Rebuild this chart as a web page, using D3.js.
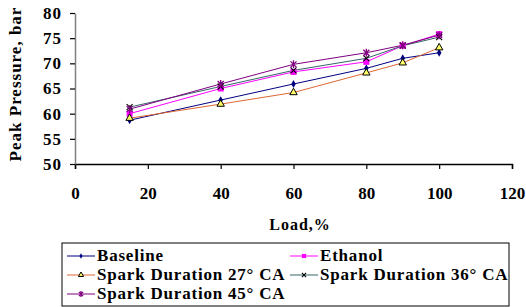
<!DOCTYPE html>
<html>
<head>
<meta charset="utf-8">
<script src="https://cdn.jsdelivr.net/npm/d3@7"></script>
<style>
body { margin: 0; background: #fff; }
text { font-family: "Liberation Serif", "Times New Roman", serif; font-weight: bold; }
</style>
</head>
<body>
<svg class="chart" width="526" height="307"></svg>
<script>
// data
var loads = [15, 40, 60, 80, 90, 100];
var baseline = [58.7, 62.7, 65.9, 69.0, 71.0, 72.1];
var ethanol = [60.0, 65.0, 68.3, 70.3, 73.5, 75.8];
var sd27 = [59.1, 61.9, 64.2, 68.1, 70.1, 73.1];
var sd36 = [61.3, 65.4, 68.6, 71.0, 73.5, 75.2];
var sd45 = [60.9, 65.9, 69.8, 72.1, 73.6, 75.6];
var xTicks = [0, 20, 40, 60, 80, 100, 120];
var yTicks = [50, 55, 60, 65, 70, 75, 80];

var series = [
  {name: 'Baseline', values: baseline, color: '#000080', marker: 'diamond'},
  {name: 'Ethanol', values: ethanol, color: '#ff00ff', marker: 'square'},
  {name: 'Spark Duration 27\u00b0 CA', values: sd27, color: '#dd6633', marker: 'triangle'},
  {name: 'Spark Duration 36\u00b0 CA', values: sd36, color: '#336666', marker: 'x'},
  {name: 'Spark Duration 45\u00b0 CA', values: sd45, color: '#800080', marker: 'star'}
];

var svg = d3.select('.chart');

var x = d3.scaleLinear().domain([0, 120]).range([75, 512]);
var y = d3.scaleLinear().domain([50, 80]).range([164, 13]);

//axes
var xAxis = svg.append('g')
  .attr('transform', 'translate(' + [0, 164] + ')')
  .call(d3.axisBottom(x).tickValues(xTicks).tickSize(5).tickPadding(18));
xAxis.select('.domain').attr('stroke', '#000').attr('stroke-width', 1.5);
xAxis.selectAll('.tick line').attr('stroke-width', 1.2);
xAxis.selectAll('text').attr('font-size', 17).attr('fill', '#000')
  .attr('font-family', '"Liberation Serif", serif');

var yAxis = svg.append('g')
  .attr('transform', 'translate(' + [75, 0] + ')')
  .call(d3.axisLeft(y).tickValues(yTicks).tickSize(5).tickSizeOuter(0).tickPadding(8));
yAxis.select('.domain').attr('stroke', '#808080').attr('stroke-width', 1.5);
yAxis.selectAll('.tick line').attr('stroke-width', 1.2);
yAxis.selectAll('text').attr('font-size', 17).attr('fill', '#000')
  .attr('font-family', '"Liberation Serif", serif')
  .attr('letter-spacing', 1);

svg.append('text')
  .attr('x', 300).attr('y', 230)
  .attr('text-anchor', 'middle')
  .attr('font-size', 16)
  .attr('letter-spacing', 1)
  .text('Load,%');

svg.append('text')
  .attr('transform', 'translate(' + [21, 84] + ') rotate(-90)')
  .attr('text-anchor', 'middle')
  .attr('font-size', 17)
  .attr('letter-spacing', 1)
  .text('Peak Pressure, bar');

//marker drawing
function drawMarker(g, type, color, cx, cy, k) {
  if (type == 'diamond') {
    g.append('path').attr('d', d3.symbol(d3.symbolDiamond, 18 * k * k)())
      .attr('transform', 'translate(' + [cx, cy] + ')')
      .attr('fill', color);
  } else if (type == 'square') {
    g.append('rect').attr('x', cx - 3 * k).attr('y', cy - 3 * k)
      .attr('width', 6 * k).attr('height', 6 * k).attr('fill', color);
  } else if (type == 'triangle') {
    g.append('path').attr('d', d3.symbol(d3.symbolTriangle, 24 * k * k)())
      .attr('transform', 'translate(' + [cx, cy] + ')')
      .attr('fill', '#ffff66').attr('stroke', '#000').attr('stroke-width', 1);
  } else if (type == 'x') {
    var r = 3 * k;
    g.append('path').attr('d', 'M' + (cx - r) + ',' + (cy - r) + 'L' + (cx + r) + ',' + (cy + r)
      + 'M' + (cx - r) + ',' + (cy + r) + 'L' + (cx + r) + ',' + (cy - r))
      .attr('stroke', '#000').attr('stroke-width', 1.1);
  } else if (type == 'star') {
    var r = 3 * k;
    g.append('path').attr('d', 'M' + (cx - r) + ',' + (cy - r) + 'L' + (cx + r) + ',' + (cy + r)
      + 'M' + (cx - r) + ',' + (cy + r) + 'L' + (cx + r) + ',' + (cy - r)
      + 'M' + cx + ',' + (cy - r - 1) + 'L' + cx + ',' + (cy + r + 1))
      .attr('stroke', color).attr('stroke-width', 1.3);
  }
}

var line = d3.line()
  .x(function(d, i) { return x(loads[i]); })
  .y(function(d) { return y(d); });

var plot = svg.append('g');
series.forEach(function(s) {
  plot.append('path')
    .attr('d', line(s.values))
    .attr('fill', 'none')
    .attr('stroke', s.color)
    .attr('stroke-width', 1);
});
series.forEach(function(s) {
  var g = plot.append('g');
  s.values.forEach(function(v, i) {
    drawMarker(g, s.marker, s.color, x(loads[i]), y(v), 1);
  });
});

//legend
var legend = svg.append('g');
legend.append('rect')
  .attr('x', 62).attr('y', 243)
  .attr('width', 447).attr('height', 63)
  .attr('fill', '#fff').attr('stroke', '#000').attr('stroke-width', 1);

var legendPos = [[67, 256], [290, 256], [67, 275], [290, 275], [67, 294]];
series.forEach(function(s, i) {
  var p = legendPos[i];
  legend.append('line')
    .attr('x1', p[0]).attr('x2', p[0] + 28)
    .attr('y1', p[1]).attr('y2', p[1])
    .attr('stroke', s.color).attr('stroke-width', 1);
  drawMarker(legend, s.marker, s.color, p[0] + 14, p[1], 0.7);
  legend.append('text')
    .attr('x', p[0] + 30).attr('y', p[1] + 5)
    .attr('font-size', 17)
    .attr('letter-spacing', 0.8)
    .text(s.name);
});
</script>
</body>
</html>
